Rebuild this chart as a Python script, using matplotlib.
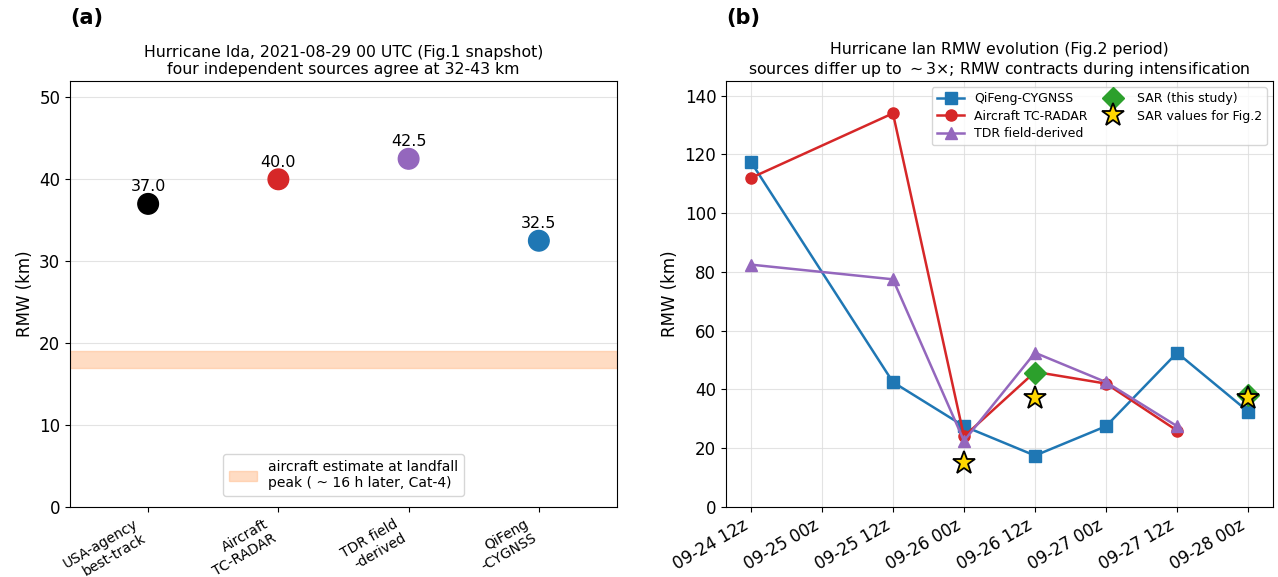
import numpy as np
import matplotlib
matplotlib.use('Agg')
import matplotlib.pyplot as plt

# panel (a): Ida snapshot
ida_sources = ['USA-agency\nbest-track', 'Aircraft\nTC-RADAR', 'TDR field\n-derived', 'QiFeng\n-CYGNSS']
ida_rmw = [37.0, 40.0, 42.5, 32.5]
ida_colors = ['black', '#d62728', '#9467bd', '#1f77b4']
landfall_band = (17.0, 19.0)

# panel (b): Ian evolution, 12-hourly slots
ian_times = ['09-24 12z', '09-25 00z', '09-25 12z', '09-26 00z',
             '09-26 12z', '09-27 00z', '09-27 12z', '09-28 00z']
qifeng_idx = [0, 2, 3, 4, 5, 6, 7]
qifeng_rmw = [117.5, 42.5, 27.5, 17.5, 27.5, 52.5, 32.5]
aircraft_idx = [0, 2, 3, 4, 5, 6]
aircraft_rmw = [112.0, 134.0, 24.0, 46.0, 42.0, 26.0]
tdr_idx = [0, 2, 3, 4, 5, 6]
tdr_rmw = [82.5, 77.5, 22.5, 52.5, 42.5, 27.5]
sar_idx = [4, 7]
sar_rmw = [45.5, 38.0]
sar_fig2_idx = [3, 4, 7]
sar_fig2_rmw = [15.0, 37.0, 37.0]

fig = plt.figure(figsize=(12.78, 5.77), dpi=100)
ax1 = fig.add_axes([70 / 1278, 1 - 507 / 577, 547 / 1278, 426 / 577])
ax2 = fig.add_axes([726 / 1278, 1 - 507 / 577, 547 / 1278, 426 / 577])

# ---- (a)
x = np.arange(len(ida_rmw))
ax1.axhspan(*landfall_band, color='#ffbb88', alpha=0.5,
            label='aircraft estimate at landfall\npeak ( ~ 16 h later, Cat-4)')
ax1.scatter(x, ida_rmw, s=220, c=ida_colors, zorder=3)
for xi, v in zip(x, ida_rmw):
    ax1.annotate('%.1f' % v, (xi, v), xytext=(0, 7), textcoords='offset points',
                 ha='center', va='bottom', fontsize=11.5)
ax1.set_xticks(x)
ax1.set_xticklabels(ida_sources, rotation=30, ha='right', fontsize=10)
ax1.set_xlim(-0.6, 3.6)
ax1.set_ylim(0, 52)
ax1.set_yticks([0, 10, 20, 30, 40, 50])
ax1.tick_params(axis='y', labelsize=12)
ax1.set_ylabel('RMW (km)', fontsize=12)
ax1.grid(axis='y', color='#dddddd', alpha=0.8)
ax1.set_axisbelow(True)
ax1.set_title('Hurricane Ida, 2021-08-29 00 UTC (Fig.1 snapshot)\n'
              'four independent sources agree at 32-43 km', fontsize=11.3, pad=5)
ax1.legend(loc='lower center', bbox_to_anchor=(0.5, 0.01), fontsize=10)
fig.text(70 / 1278, 1 - 18 / 577, '(a)', fontsize=15, fontweight='bold', va='center')

# ---- (b)
ax2.plot(qifeng_idx, qifeng_rmw, '-s', color='#1f77b4', lw=1.8, ms=8,
         label='QiFeng-CYGNSS')
ax2.plot(aircraft_idx, aircraft_rmw, '-o', color='#d62728', lw=1.8, ms=8,
         label='Aircraft TC-RADAR')
ax2.plot(tdr_idx, tdr_rmw, '-^', color='#9467bd', lw=1.8, ms=8,
         label='TDR field-derived')
ax2.plot(sar_idx, sar_rmw, 'D', color='#2ca02c', ms=11, ls='none',
         label='SAR (this study)', zorder=4)
ax2.plot(sar_fig2_idx, sar_fig2_rmw, '*', color='#ffd700', mec='black', mew=1.3,
         ms=17, ls='none', label='SAR values for Fig.2', zorder=5)
ax2.set_xticks(np.arange(len(ian_times)))
ax2.set_xticklabels(ian_times, rotation=30, ha='right', fontsize=12)
ax2.set_xlim(-0.35, 7.35)
ax2.set_ylim(0, 145)
ax2.set_yticks([0, 20, 40, 60, 80, 100, 120, 140])
ax2.tick_params(axis='y', labelsize=12)
ax2.set_ylabel('RMW (km)', fontsize=12)
ax2.grid(color='#dddddd', alpha=0.8)
ax2.set_axisbelow(True)
ax2.set_title('Hurricane Ian RMW evolution (Fig.2 period)\n'
              'sources differ up to $\\sim$3\u00d7; RMW contracts during intensification',
              fontsize=11.3, pad=5)
ax2.legend(loc='upper right', ncol=2, fontsize=9, handlelength=2.2,
           columnspacing=0.9, labelspacing=0.35)
fig.text(726 / 1278, 1 - 18 / 577, '(b)', fontsize=15, fontweight='bold', va='center')

fig.savefig('out.png', dpi=100)
